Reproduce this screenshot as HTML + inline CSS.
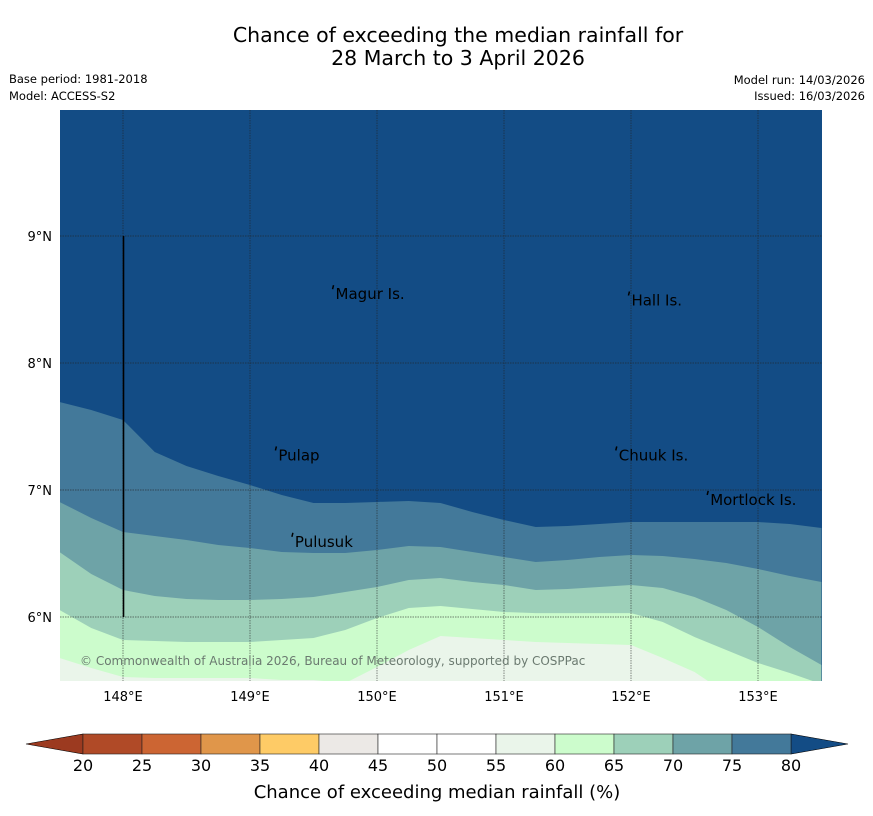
<!DOCTYPE html>
<html><head><meta charset="utf-8"><style>
body{margin:0;background:#fff;width:873px;height:816px;overflow:hidden;font-family:"DejaVu Sans","Liberation Sans",sans-serif}
svg{position:absolute;left:0;top:0}
</style></head><body>
<svg id="chart" width="873" height="816" font-family="DejaVu Sans, Liberation Sans, sans-serif">
<text x="458" y="42" text-anchor="middle" font-size="20.5" fill="#000">Chance of exceeding the median rainfall for</text>
<text x="458" y="65" text-anchor="middle" font-size="20.5" fill="#000">28 March to 3 April 2026</text>
<text x="9" y="83" font-size="11.5">Base period: 1981-2018</text>
<text x="9" y="100" font-size="11.5">Model: ACCESS-S2</text>
<text x="865" y="84" font-size="11.5" text-anchor="end">Model run: 14/03/2026</text>
<text x="865" y="100" font-size="11.5" text-anchor="end">Issued: 16/03/2026</text>
<defs><clipPath id="mapclip"><rect x="60" y="110" width="762" height="571"/></clipPath></defs>
<g id="map" clip-path="url(#mapclip)">
<rect x="60" y="110" width="762" height="571" fill="#134c85"/>
</g>
<g id="grid"></g>
<g id="labels"></g>
<g id="cbar"></g>
</svg>
<script>
const lons=[147.5,147.75,148,148.25,148.5,148.75,149,149.25,149.5,149.75,150,150.25,150.5,150.75,151,151.25,151.5,151.75,152,152.25,152.5,152.75,153,153.25,153.5];
const c80=[7.693,7.630,7.551,7.299,7.189,7.110,7.039,6.961,6.898,6.898,6.906,6.913,6.898,6.827,6.764,6.709,6.717,6.732,6.748,6.748,6.748,6.748,6.748,6.732,6.701];
const c75=[6.906,6.780,6.669,6.638,6.606,6.567,6.543,6.512,6.504,6.504,6.528,6.559,6.551,6.512,6.472,6.433,6.449,6.472,6.488,6.480,6.457,6.425,6.378,6.323,6.276];
const c70=[6.512,6.339,6.213,6.165,6.142,6.134,6.134,6.142,6.157,6.197,6.236,6.291,6.307,6.276,6.252,6.213,6.220,6.236,6.252,6.228,6.157,6.055,5.921,5.764,5.622];
const c65=[6.055,5.913,5.819,5.811,5.803,5.803,5.803,5.819,5.835,5.898,5.992,6.071,6.087,6.063,6.039,6.031,6.031,6.031,6.031,5.961,5.843,5.740,5.638,5.559,5.472];
const c60=[5.677,5.598,5.528,5.520,5.520,5.520,5.520,5.504,5.504,5.48,5.606,5.740,5.850,5.835,5.819,5.803,5.795,5.787,5.780,5.677,5.567,5.4,5.3,5.2,5.1];
const bandColors=["#43799a","#6ea3a7","#9dd0b9","#ccfccc","#eaf5ea"];
const bandNames=["band-75-80","band-70-75","band-65-70","band-60-65","band-55-60"];
const lonTicks=[148,149,150,151,152,153];
const latTicks=[9,8,7,6];
const cbLevels=[20,25,30,35,40,45,50,55,60,65,70,75,80];
const cbColors=["#b04a27","#cc6533","#e0964a","#fecb66","#ece9e6","#ffffff","#ffffff","#eaf5ea","#ccfccc","#9dd0b9","#6ea3a7","#43799a"];
const islands=[["Magur Is.",149.65,8.55],["Hall Is.",151.98,8.5],["Pulap",149.2,7.28],["Chuuk Is.",151.88,7.28],["Mortlock Is.",152.6,6.93],["Pulusuk",149.33,6.6]];
const NS="http://www.w3.org/2000/svg";
const X=lon=>123+(lon-148)*127;
const Y=lat=>236+(9-lat)*127;
function mk(t,a,p){const e=document.createElementNS(NS,t);for(const k in a)e.setAttribute(k,a[k]);p.appendChild(e);return e;}
const map=document.getElementById('map');
[c80,c75,c70,c65,c60].forEach((c,i)=>{
 let d="M"+X(lons[0])+","+Y(c[0]);
 for(let j=1;j<lons.length;j++)d+=" L"+X(lons[j])+","+Y(c[j]);
 d+=" L"+X(lons[lons.length-1])+",700 L"+X(lons[0])+",700 Z";
 const p=mk('path',{d:d,fill:bandColors[i]},map);
 
 
});
const g=document.getElementById('grid');
lonTicks.forEach(l=>{
 const ln=mk('line',{x1:X(l),x2:X(l),y1:110,y2:681,stroke:"#222",'stroke-width':0.7,'stroke-dasharray':"1.5,1",opacity:0.75},g);
 
 
 const t=mk('text',{x:X(l),y:701,'text-anchor':'middle','font-size':13},g);t.textContent=l+"°E";
 
 
});
latTicks.forEach(l=>{
 const ln=mk('line',{x1:60,x2:822,y1:Y(l),y2:Y(l),stroke:"#222",'stroke-width':0.7,'stroke-dasharray':"1.5,1",opacity:0.75},g);
 
 
 const t=mk('text',{x:52,y:Y(l)+5,'text-anchor':'end','font-size':13},g);t.textContent=l+"°N";
 
 
});
const bl=mk('line',{x1:123.5,x2:123.5,y1:236,y2:617,stroke:"#000",'stroke-width':1.6},g);


const lb=document.getElementById('labels');
islands.forEach(s=>{
 const m=mk('path',{d:"M"+(X(s[1])+1)+","+(Y(s[2])-8)+" l-1,4",stroke:"#000",'stroke-width':1.5},lb);
 
 
 const t=mk('text',{x:X(s[1])+3,y:Y(s[2])+6,'font-size':15},lb);t.textContent=s[0];
 
 
});
const cp=mk('text',{x:80,y:665,'font-size':12,fill:"#6b7a70"},lb);
cp.textContent="© Commonwealth of Australia 2026, Bureau of Meteorology, supported by COSPPac";


const cb=document.getElementById('cbar');
const CX=v=>83+(v-20)*(708/60);
const t1=mk('polygon',{points:"83,734 83,754 26,744",fill:"#9c3a20",stroke:"#000",'stroke-width':0.6},cb);


const t2=mk('polygon',{points:"791,734 791,754 848,744",fill:"#134c85",stroke:"#000",'stroke-width':0.6},cb);


cbColors.forEach((c,i)=>{
 const r=mk('rect',{x:CX(cbLevels[i]),y:734,width:CX(cbLevels[i+1])-CX(cbLevels[i]),height:20,fill:c,stroke:"#222",'stroke-width':0.6},cb);
 
 
});
cbLevels.forEach(v=>{
 const t=mk('text',{x:CX(v),y:771,'text-anchor':'middle','font-size':16},cb);t.textContent=v;
 
 
});
const ct=mk('text',{x:437,y:798,'text-anchor':'middle','font-size':18},cb);
ct.textContent="Chance of exceeding median rainfall (%)";


</script>
</body></html>
